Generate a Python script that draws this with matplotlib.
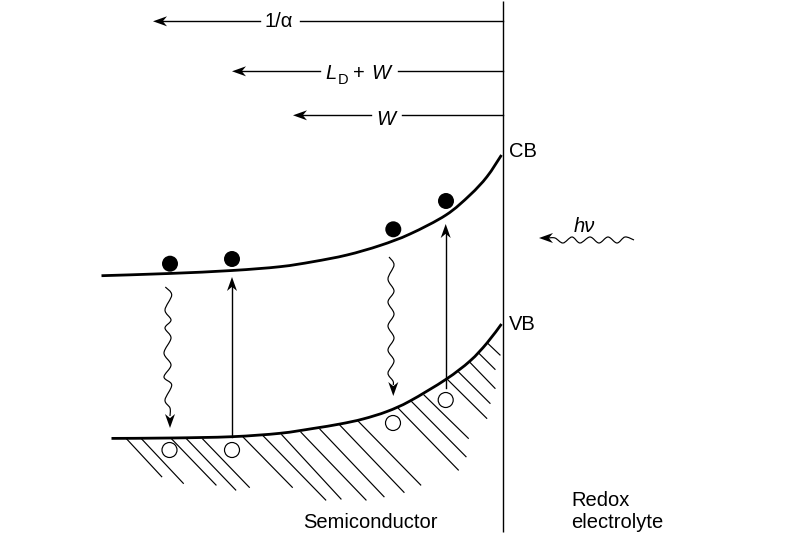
# band diagram, drawn on an axes that runs in image pixels
import numpy as np
import matplotlib
matplotlib.use('Agg')
import matplotlib.pyplot as plt
from matplotlib.path import Path
from matplotlib.patches import PathPatch, Polygon, Circle

plt.rcParams['font.family'] = ['Liberation Sans', 'DejaVu Sans']

# ---- band edges ----
cb_x = [101.5, 169, 232, 280, 313, 347, 380, 410, 446, 470, 487, 501.5]
cb_y = [275.7, 273.5, 270.5, 266.7, 261.7, 255, 245.5, 234, 215, 195, 176.7, 155]
vb_x = [111.5, 170, 232, 280, 313, 340, 363, 387, 410, 446, 470, 487, 501.5]
vb_y = [438.4, 438, 436.7, 433.3, 428.5, 424, 419, 411.5, 401, 379.3, 361, 343, 324]

# ---- carriers ----
electron_x = [170, 232, 393.3, 446]
electron_y = [263.7, 259, 229.3, 201]
hole_x = [169.5, 232, 393, 445.7]
hole_y = [450, 450, 423, 400]

# ---- hatching under the valence band (start x, start y, end x, end y) ----
hatch_x0 = [126.7, 141.7, 171.7, 186.7, 202.7, 243.3, 263.3, 281.7, 301, 320, 340, 358.3,
            398.3, 411.7, 424, 447.3, 458.3, 469.3, 478.3, 487.7]
hatch_y0 = [439, 439, 439, 439, 439, 437.3, 436, 434.7, 432.3, 429.3, 425.3, 421.3,
            408.3, 401.7, 395, 379.3, 371.7, 361.7, 352.7, 343.3]
hatch_x1 = [161.7, 183.3, 216, 235.7, 249.3, 292.3, 325.7, 341, 366, 384, 404, 420.7,
            458.3, 466, 468.3, 486.7, 490, 495, 495, 500]
hatch_y1 = [476.7, 483.3, 485, 490, 487.3, 487.3, 500, 499, 500, 496.7, 492.3, 485,
            470, 456.7, 438.3, 418.3, 403.3, 388.3, 369.3, 355]

# ---- wavy recombination / light arrows, crest by crest ----
wave1_x = [165.3, 171.7, 165, 171, 165, 171, 164, 171, 164, 171.7, 165, 170, 170]
wave1_y = [287, 295, 310, 320, 328, 338, 353, 365, 377, 385, 400, 408, 416]
wave2_x = [389, 394, 388, 394, 388, 394, 388, 394, 388, 394, 388, 393, 393.3]
wave2_y = [257, 265, 279, 291, 302, 314, 326, 338, 350, 361, 373, 381, 385]
wave3_x = [634, 625, 617, 608, 599, 590, 580, 572, 563, 555, 548]
wave3_y = [240, 237, 243, 237, 243, 237, 243, 237, 243, 238, 238]

# ---- width markers at the top (y, right piece start, right piece end, left piece start, tip) ----
marker_y = [21.3, 71.3, 115.3]
marker_right = [300, 398, 402]
marker_left = [260, 320, 371]
marker_tip = [153, 232, 293]

# ---- straight excitation arrows ----
excite_x = [232, 445.7]
excite_from = [436.7, 388]
excite_to = [277, 224]

FS = 14.5


def smooth(xs, ys):
    # Catmull-Rom through the points, as cubic beziers
    p = np.column_stack([xs, ys])
    verts = [p[0]]
    codes = [Path.MOVETO]
    for i in range(len(p) - 1):
        p0 = p[max(i - 1, 0)]
        p1 = p[i]
        p2 = p[i + 1]
        p3 = p[min(i + 2, len(p) - 1)]
        verts += [p1 + (p2 - p0) / 6, p2 - (p3 - p1) / 6, p2]
        codes += [Path.CURVE4, Path.CURVE4, Path.CURVE4]
    return Path(verts, codes)


def head(ax, tx, ty, dx, dy, length=14, half=5):
    # barbed arrow head, tip at (tx, ty), pointing along (dx, dy)
    nx, ny = -dy, dx
    bx, by = tx - dx * length, ty - dy * length
    nbx, nby = tx - dx * length * 0.7, ty - dy * length * 0.7
    ax.add_patch(Polygon([(tx, ty), (bx + nx * half, by + ny * half), (nbx, nby),
                          (bx - nx * half, by - ny * half)],
                         closed=True, fc='black', ec='none', zorder=4))


fig = plt.figure(figsize=(7.9, 5.41), dpi=100)
ax = fig.add_axes([0, 0, 1, 1])
ax.set_xlim(0, 790)
ax.set_ylim(541, 0)
ax.axis('off')

# interface
ax.plot([502.5, 502.5], [1, 532], color='black', lw=1.0, solid_capstyle='butt')

# bands
for xs, ys in [(cb_x, cb_y), (vb_x, vb_y)]:
    ax.add_patch(PathPatch(smooth(xs, ys), fc='none', ec='black', lw=2.0, capstyle='butt', zorder=3))

# hatching
for x0, y0, x1, y1 in zip(hatch_x0, hatch_y0, hatch_x1, hatch_y1):
    ax.plot([x0, x1], [y0, y1], color='black', lw=0.85)

# carriers
for x, y in zip(electron_x, electron_y):
    ax.add_patch(Circle((x, y), 8, fc='black', ec='none', zorder=4))
for x, y in zip(hole_x, hole_y):
    ax.add_patch(Circle((x, y), 7.5, fc='white', ec='black', lw=0.85, zorder=4))

# excitation arrows
for x, y0, y1 in zip(excite_x, excite_from, excite_to):
    ax.plot([x, x], [y0, y1 + 8], color='black', lw=1.0)
    head(ax, x, y1, 0, -1)

# wavy arrows
for xs, ys in [(wave1_x, wave1_y), (wave2_x, wave2_y), (wave3_x, wave3_y)]:
    ax.add_patch(PathPatch(smooth(xs, ys), fc='none', ec='black', lw=0.85, zorder=3))
head(ax, wave1_x[-1], 428, 0, 1)
head(ax, wave2_x[-1], 396, 0, 1)
head(ax, 539, 238, -1, 0)

# width markers
for y, rs, ls, tip in zip(marker_y, marker_right, marker_left, marker_tip):
    ax.plot([502.5, rs], [y, y], color='black', lw=1.0)
    ax.plot([ls, tip + 8], [y, y], color='black', lw=1.0)
    head(ax, tip, y, -1, 0)

# labels
ax.text(265, 26.7, '1/α', fontsize=FS, va='baseline')
ax.text(325, 79, 'L', fontsize=FS, style='italic', va='baseline')
ax.text(337.5, 83.5, 'D', fontsize=10.5, va='baseline')
ax.text(352.5, 79, '+', fontsize=FS, va='baseline')
ax.text(371, 79, 'W', fontsize=FS, style='italic', va='baseline')
ax.text(376.5, 125, 'W', fontsize=FS, style='italic', va='baseline')
ax.text(574, 231.7, 'hν', fontsize=FS, style='italic', va='baseline')
ax.text(509, 157.3, 'CB', fontsize=FS, va='baseline')
ax.text(509, 330, 'VB', fontsize=FS, va='baseline')
ax.text(303, 527.7, 'Semiconductor', fontsize=FS, va='baseline')
ax.text(571.5, 506, 'Redox', fontsize=FS, va='baseline')
ax.text(571.5, 528, 'electrolyte', fontsize=FS, va='baseline')

fig.savefig('out.png', dpi=100)
